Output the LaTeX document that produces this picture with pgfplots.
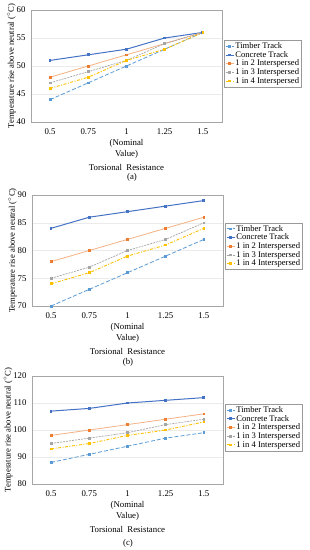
\documentclass[border=0pt]{standalone}
\usepackage{pgfplots}
\pgfplotsset{compat=1.18}
\usepackage{fontspec}
\setmainfont{Liberation Serif}
\definecolor{cTimber}{HTML}{5B9BD5}
\definecolor{cConc}{HTML}{4472C4}
\definecolor{cTwo}{HTML}{F4B183}
\definecolor{cTwoM}{HTML}{ED7D31}
\definecolor{cThree}{HTML}{A5A5A5}
\definecolor{cFour}{HTML}{FFC000}
\pgfplotsset{
 panel/.style={
  scale only axis, width=191pt, height=#1,
  xmin=-0.5, xmax=4.5,
  xtick={0,1,2,3,4},
  xticklabels={0.5,0.75,{1\\(Nominal\\Value)},1.25,1.5},
  xticklabel style={align=center, font=\fontsize{8.8}{11}\selectfont, yshift=-3pt},
  yticklabel style={font=\fontsize{8.8}{10}\selectfont, xshift=-2pt},
  /pgf/number format/assume math mode=true,
  axis line style={draw=black!35},
  major tick length=0pt,
  ymajorgrids, grid style={draw=black!8, line width=0.4pt},
  xlabel={Torsional\ \ Resistance},
  xlabel style={font=\fontsize{8.8}{10}\selectfont, yshift=1pt},
  ylabel={Temperature rise above neutral ($^{\circ}$C)},
  ylabel style={font=\fontsize{8.6}{10}\selectfont, yshift=-6pt},
  legend cell align=left,
  legend style={draw=black!40, font=\fontsize{8.6}{10}\selectfont, inner sep=1pt, row sep=-1.2pt, nodes={inner sep=1.2pt}},
  legend image code/.code={\draw[mark repeat=2,mark phase=2,##1] plot coordinates {(0pt,0pt) (4pt,0pt) (8pt,0pt)};},
  mark size=0.9pt,
 },
 sTimber/.style={color=cTimber, line width=0.8pt, dash pattern=on 4pt off 2pt, mark=square*, mark options={solid}},
 sConc/.style={color=cConc, line width=1pt, mark=square*},
 sTwo/.style={color=cTwo, line width=0.8pt, mark=square*, mark options={fill=cTwoM, draw=cTwoM}},
 sThree/.style={color=cThree, line width=0.7pt, dash pattern=on 2pt off 1pt, mark=square*, mark options={solid}},
 sFour/.style={color=cFour, line width=0.9pt, dash pattern=on 3pt off 1.5pt on 1pt off 1.5pt, mark=square*, mark options={solid}},
}
\begin{document}
\begin{tikzpicture}
\useasboundingbox (0,0) rectangle (309pt,-550pt);
% (a)
\begin{axis}[panel=112pt, at={(31pt,-122pt)}, anchor=south west,
  ymin=40, ymax=60, ytick={40,45,50,55,60},
  legend style={at={(rel axis cs:1.01,0.73)}, anchor=north west}]
\addplot[sTimber] coordinates {(0,44) (1,47) (2,50) (3,53) (4,56)};
\addplot[sConc] coordinates {(0,51) (1,52) (2,53) (3,55) (4,56)};
\addplot[sTwo] coordinates {(0,48) (1,50) (2,52) (3,54) (4,56)};
\addplot[sThree] coordinates {(0,47) (1,49) (2,51) (3,54) (4,56)};
\addplot[sFour] coordinates {(0,46) (1,48) (2,51) (3,53) (4,56)};
\legend{Timber Track,Concrete Track,1 in 2 Interspersed,1 in 3 Interspersed,1 in 4 Interspersed}
\end{axis}
\node[font=\fontsize{8.8}{10}\selectfont] at (132pt,-177pt) {(a)};
% (b)
\begin{axis}[panel=111pt, at={(32pt,-306pt)}, anchor=south west,
  ymin=70, ymax=90, ytick={70,75,80,85,90},
  legend style={at={(rel axis cs:1.01,0.75)}, anchor=north west}]
\addplot[sTimber] coordinates {(0,70) (1,73) (2,76) (3,79) (4,82)};
\addplot[sConc] coordinates {(0,84) (1,86) (2,87) (3,88) (4,89)};
\addplot[sTwo] coordinates {(0,78) (1,80) (2,82) (3,84) (4,86)};
\addplot[sThree] coordinates {(0,75) (1,77) (2,80) (3,82) (4,85)};
\addplot[sFour] coordinates {(0,74) (1,76) (2,79) (3,81) (4,84)};
\legend{Timber Track,Concrete Track,1 in 2 Interspersed,1 in 3 Interspersed,1 in 4 Interspersed}
\end{axis}
\node[font=\fontsize{8.8}{10}\selectfont] at (128pt,-362pt) {(b)};
% (c)
\begin{axis}[panel=108pt, at={(32pt,-484pt)}, anchor=south west,
  ymin=80, ymax=120, ytick={80,90,100,110,120},
  legend style={at={(rel axis cs:1.01,0.74)}, anchor=north west}]
\addplot[sTimber] coordinates {(0,88) (1,91) (2,94) (3,97) (4,99)};
\addplot[sConc] coordinates {(0,107) (1,108) (2,110) (3,111) (4,112)};
\addplot[sTwo] coordinates {(0,98) (1,100) (2,102) (3,104) (4,106)};
\addplot[sThree] coordinates {(0,95) (1,97) (2,99) (3,102) (4,104)};
\addplot[sFour] coordinates {(0,93) (1,95) (2,98) (3,100) (4,103)};
\legend{Timber Track,Concrete Track,1 in 2 Interspersed,1 in 3 Interspersed,1 in 4 Interspersed}
\end{axis}
\node[font=\fontsize{8.8}{10}\selectfont] at (128pt,-543pt) {(c)};
\end{tikzpicture}
\end{document}
